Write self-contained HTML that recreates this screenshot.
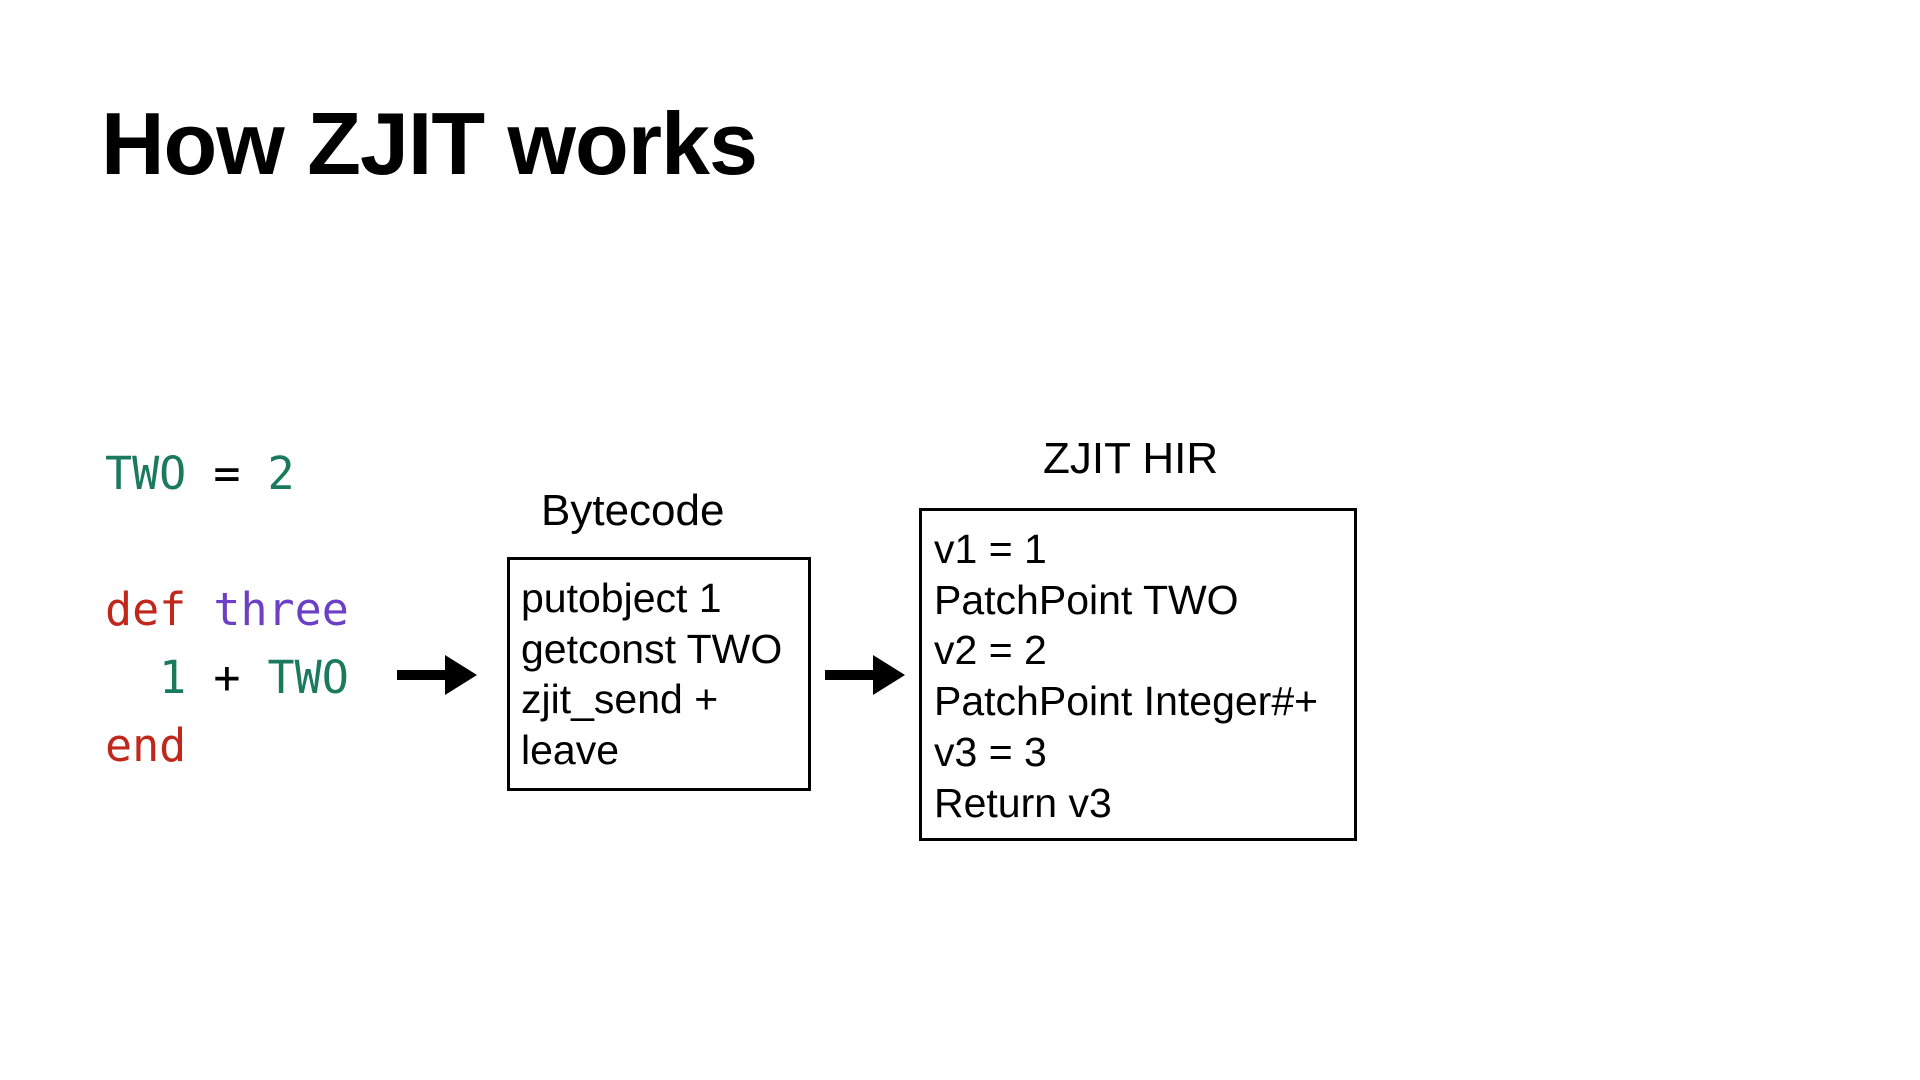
<!DOCTYPE html>
<html><head><meta charset="utf-8"><style>
body{margin:0;width:1920px;height:1080px;background:#fff;position:relative;overflow:hidden;font-family:"Liberation Sans",sans-serif;color:#000}
.a{position:absolute;white-space:pre}
.code{font-family:"DejaVu Sans Mono",monospace;font-size:45px;line-height:50px}
.g{color:#1b7a5c}.r{color:#c0281c}.p{color:#6b3fc6}.k{color:#000}
.box{position:absolute;border:3px solid #000;box-sizing:border-box}
.t{font-size:41px;line-height:50.7px}
</style></head><body>
<div class="a" style="left:101px;top:94px;font-size:88px;font-weight:bold;line-height:100px;letter-spacing:-1px">How ZJIT works</div>

<div class="a code g" style="left:105px;top:449px">TWO <span class="k">=</span> 2</div>
<div class="a code" style="left:105px;top:585px"><span class="r">def</span> <span class="p">three</span></div>
<div class="a code g" style="left:105px;top:653px">  1 <span class="k">+</span> TWO</div>
<div class="a code r" style="left:105px;top:721px">end</div>

<svg class="a" style="left:0;top:0" width="1920" height="1080">
<rect x="397" y="670" width="50" height="10" fill="#000"/><polygon points="445,655 477,675 445,695" fill="#000"/>
<rect x="825" y="670" width="50" height="10" fill="#000"/><polygon points="873,655 905,675 873,695" fill="#000"/>
</svg>

<div class="a" style="left:541px;top:485px;font-size:44px;line-height:52px">Bytecode</div>
<div class="box" style="left:507px;top:557px;width:304px;height:234px"></div>
<div class="a t" style="left:521px;top:573px">putobject 1
getconst TWO
zjit_send +
leave</div>

<div class="a" style="left:1043px;top:433px;font-size:44px;line-height:52px">ZJIT HIR</div>
<div class="box" style="left:919px;top:508px;width:438px;height:333px"></div>
<div class="a t" style="left:934px;top:524px">v1 = 1
PatchPoint TWO
v2 = 2
PatchPoint Integer#+
v3 = 3
Return v3</div>
</body></html>
